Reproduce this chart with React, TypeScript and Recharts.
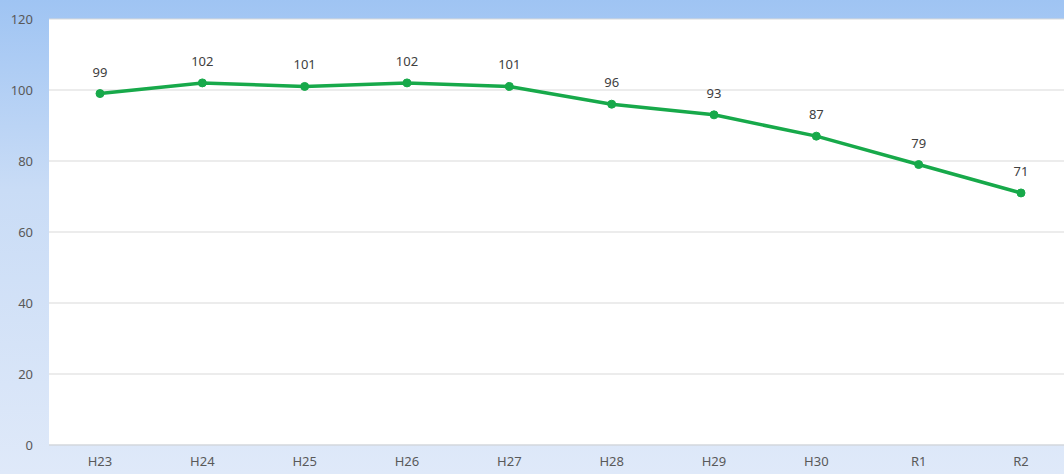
import { LineChart, Line, XAxis, YAxis, CartesianGrid, LabelList } from "recharts";

const years = ["H23", "H24", "H25", "H26", "H27", "H28", "H29", "H30", "R1", "R2"];
const values = [99, 102, 101, 102, 101, 96, 93, 87, 79, 71];
const yTicks = [0, 20, 40, 60, 80, 100, 120];

const data = years.map((y, i) => ({ year: y, value: values[i] }));

export default function App() {
  return (
    <div
      style={{
        position: "absolute",
        left: 0,
        top: 0,
        width: 1064,
        height: 474,
        background: "linear-gradient(to bottom, #9fc4f3 0%, #c9dcf6 40%, #dfe9f9 100%)",
        fontFamily: "'Noto Sans', sans-serif",
      }}
    >
      <LineChart
        width={1064}
        height={474}
        data={data}
        margin={{ top: 19, right: 0, left: 0, bottom: 0 }}
      >
        <CartesianGrid vertical={false} stroke="#d9d9d9" fill="#ffffff" />
        <XAxis
          dataKey="year"
          height={29}
          padding={{ left: 51, right: 43 }}
          tickLine={false}
          axisLine={{ stroke: "#d0d6df" }}
          tick={{ fill: "#595959", fontSize: 13 }}
          tickMargin={6}
        />
        <YAxis
          width={49}
          domain={[0, 120]}
          ticks={yTicks}
          tickLine={false}
          axisLine={false}
          tick={{ fill: "#595959", fontSize: 13 }}
          tickMargin={10}
        />
        <Line
          type="linear"
          dataKey="value"
          stroke="#17a94a"
          strokeWidth={3.5}
          dot={{ r: 4, fill: "#17a94a", stroke: "#17a94a", strokeWidth: 1 }}
          isAnimationActive={false}
        >
          <LabelList dataKey="value" position="top" offset={17} fill="#404040" fontSize={13} />
        </Line>
      </LineChart>
    </div>
  );
}
